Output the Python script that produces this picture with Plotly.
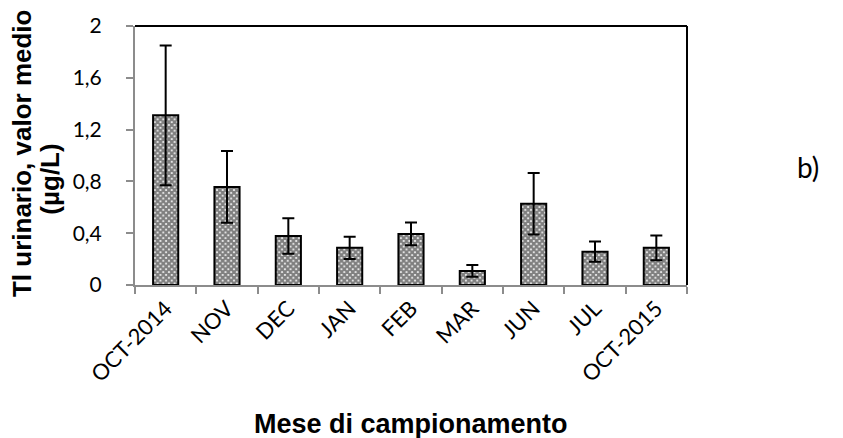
import plotly.graph_objects as go

months = ["OCT-2014", "NOV", "DEC", "JAN", "FEB", "MAR", "JUN", "JUL", "OCT-2015"]
mean_tl = [1.31, 0.757, 0.379, 0.287, 0.394, 0.109, 0.627, 0.257, 0.287]
err_tl = [0.54, 0.277, 0.137, 0.086, 0.088, 0.046, 0.237, 0.078, 0.096]
y_ticks = [0, 0.4, 0.8, 1.2, 1.6, 2]
y_labels = ["0", "0,4", "0,8", "1,2", "1,6", "2"]

xtick_font = dict(family="Lato, Open Sans, sans-serif", size=22, color="#000")
ytick_font = dict(family="Lato, Open Sans, sans-serif", size=21, color="#000")
title_family = "Liberation Sans, Arial, sans-serif"

L, R, T, B, W, H = 135, 156, 22, 153, 843, 438
pw, ph = W - L - R, H - T - B

def px(x):
    return (x - L) / pw

def py(y):
    return (H - B - y) / ph

fig = go.Figure()
fig.add_trace(go.Bar(
    x=months, y=mean_tl,
    marker=dict(color="white", line=dict(color="black", width=2),
                pattern=dict(shape="x", fgcolor="black", bgcolor="white", size=4, solidity=0.8, fillmode="overlay")),
    error_y=dict(type="data", array=err_tl, visible=True, color="black", thickness=2, width=6),
    width=0.41,
))

fig.update_layout(
    width=W, height=H,
    margin=dict(l=L, r=R, t=T, b=B),
    plot_bgcolor="white", paper_bgcolor="white",
    showlegend=False,
    xaxis=dict(
        type="category", tickangle=-45, tickfont=xtick_font,
        showline=True, linecolor="#8c8c8c", linewidth=2,
        ticks="outside", tickson="boundaries", ticklen=7, tickcolor="#8c8c8c", tickwidth=1.5,
        showgrid=False,
    ),
    yaxis=dict(
        range=[0, 2], tickvals=y_ticks, ticktext=y_labels, tickfont=ytick_font,
        showline=True, linecolor="#8c8c8c", linewidth=2,
        ticks="outside", ticklen=7, tickcolor="#8c8c8c", tickwidth=1.5,
        ticklabelstandoff=20,
        showgrid=False, zeroline=False,
    ),
    annotations=[
        dict(text="<b>Tl urinario, valor medio</b>", textangle=-90,
             xref="paper", yref="paper", x=px(22), y=py(151), xanchor="center", yanchor="middle",
             showarrow=False, font=dict(family=title_family, size=26, color="#000")),
        dict(text="<b>(µg/L)</b>", textangle=-90,
             xref="paper", yref="paper", x=px(50), y=py(178), xanchor="center", yanchor="middle",
             showarrow=False, font=dict(family=title_family, size=26, color="#000")),
        dict(text="<b>Mese di campionamento</b>",
             xref="paper", yref="paper", x=px(411), y=py(426), xanchor="center", yanchor="middle",
             showarrow=False, font=dict(family=title_family, size=27, color="#000")),
        dict(text="b)", xref="paper", yref="paper", x=px(808), y=py(165), xanchor="center", yanchor="middle",
             showarrow=False, font=dict(family="Lato, Open Sans, sans-serif", size=28, color="#000")),
    ],
    shapes=[
        dict(type="line", xref="paper", yref="paper", x0=0, x1=1, y0=1, y1=1, line=dict(color="black", width=2)),
        dict(type="line", xref="paper", yref="paper", x0=1, x1=1, y0=0, y1=1, line=dict(color="black", width=2)),
    ],
)

fig.write_html("out.html")
